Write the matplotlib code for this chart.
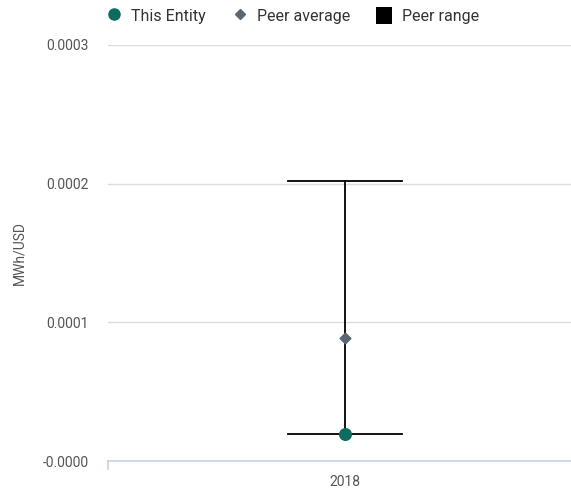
import matplotlib.pyplot as plt
from matplotlib.lines import Line2D
from matplotlib.patches import Patch

plt.rcParams['font.family'] = ['Roboto', 'DejaVu Sans']

# data
years = ['2018']
entity = [0.0000195]
peer_avg = [0.0000887]
peer_min = [0.0000195]
peer_max = [0.000202]
yticks = [0.0, 0.0001, 0.0002, 0.0003]
ytick_labels = ['-0.0000', '0.0001', '0.0002', '0.0003']

teal = '#0d6b5f'
diamond_col = '#5b6670'

fig = plt.figure(figsize=(5.71, 4.9), dpi=100)
ax = fig.add_axes([108 / 571, 29 / 490, 474 / 571, 416 / 490])

x = list(range(len(years)))
for i in x:
    ax.plot([i, i], [peer_min[i], peer_max[i]], color='black', lw=1.3, zorder=2)
    ax.plot([i - 0.12, i + 0.12], [peer_max[i], peer_max[i]], color='black', lw=1.3, zorder=2)
    ax.plot([i - 0.12, i + 0.12], [peer_min[i], peer_min[i]], color='black', lw=1.3, zorder=2)
ax.scatter(x, peer_avg, marker='D', s=30, color=diamond_col, zorder=3)
ax.scatter(x, entity, marker='o', s=70, color=teal, zorder=4)

ax.set_xlim(-0.5, 0.5)
ax.set_ylim(0, 0.0003)
ax.set_xticks(x)
ax.set_xticklabels(years)
ax.set_yticks(yticks)
ax.set_yticklabels(ytick_labels)
ax.grid(axis='y', color='#dcdcdc', lw=1)
ax.set_axisbelow(True)
for s in ['top', 'right', 'left']:
    ax.spines[s].set_visible(False)
ax.spines['bottom'].set_color('#c8d3e3')
ax.spines['bottom'].set_linewidth(1.2)
ax.tick_params(axis='y', length=0, pad=14, labelsize=10, labelcolor='#555555')
ax.tick_params(axis='x', length=0, pad=10, labelsize=10, labelcolor='#555555')
# small left tick on the x axis
ax.plot([-0.5, -0.5], [0, -0.0000055], color='#c8d3e3', lw=1.2, clip_on=False)
fig.text(19 / 571, 1 - 253 / 490, 'MWh/USD', rotation=90, ha='center', va='center',
         fontsize=10, color='#555555')

handles = [
    Line2D([], [], marker='o', ls='', color=teal, markersize=8),
    Line2D([], [], marker='D', ls='', color=diamond_col, markersize=5),
    Patch(facecolor='black'),
]
labels = ['This Entity', 'Peer average', 'Peer range']
fig.legend(handles, labels, loc='upper left', bbox_to_anchor=(0.16, 1.015), ncol=3,
           frameon=False, fontsize=11.5, handlelength=1.0, handleheight=1.3,
           handletextpad=0.6, columnspacing=1.6, labelcolor='#333333')

fig.savefig('out.png', dpi=100)
